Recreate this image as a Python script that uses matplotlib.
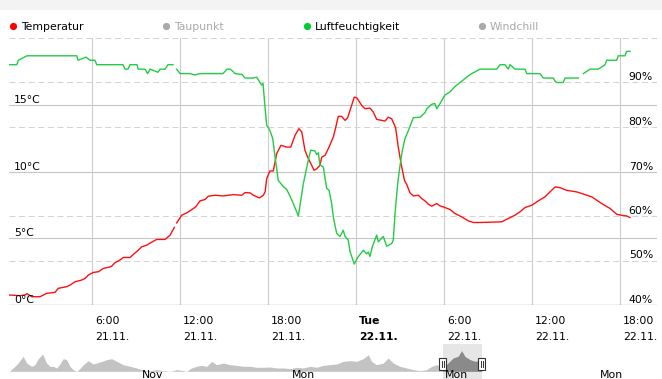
import numpy as np
import matplotlib
matplotlib.use("Agg")
import matplotlib.pyplot as plt
from matplotlib.patches import Rectangle
from matplotlib.transforms import blended_transform_factory as blend

nan = np.nan

# hours since 21.11. 00:00
temp_hours = [0.36, 1.09, 1.43, 1.57, 1.89, 2.45, 2.91, 3.48, 3.70, 4.27, 4.50, 4.84, 5.30, 5.52, 5.75,
              6.09, 6.43, 6.77, 7.23, 7.34, 7.57, 7.91, 8.13, 8.59, 8.82, 9.16, 9.39, 9.73, 10.07, 10.41,
              10.98, 11.32, 11.61, 11.69, 11.77, 12.12, 12.46, 12.80, 13.07, 13.36, 13.70, 13.93, 14.39,
              14.95, 15.63, 16.21, 16.43, 16.77, 17.00, 17.41, 17.68, 17.80, 17.91, 18.13, 18.36, 18.59,
              18.88, 19.27, 19.55, 19.84, 20.11, 20.30, 20.52, 20.75, 20.98, 21.14, 21.32, 21.54, 21.66,
              21.89, 22.16, 22.45, 22.61, 22.79, 23.02, 23.25, 23.43, 23.66, 23.88, 24.05, 24.39, 24.61,
              24.95, 25.18, 25.41, 25.75, 25.98, 26.20, 26.43, 26.70, 26.88, 27.07, 27.30, 27.46, 27.68,
              27.91, 28.25, 28.48, 28.70, 28.93, 29.16, 29.50, 29.73, 29.95, 30.41, 30.75, 31.21, 31.66,
              32.00, 32.45, 33.93, 34.38, 34.84, 35.18, 35.52, 35.98, 36.43, 36.88, 37.23, 37.57, 37.91,
              38.36, 39.05, 39.39, 40.07, 40.75, 41.32, 41.77, 42.11, 42.45, 42.68]
temp_values = [0.75, 0.70, 0.75, 0.85, 0.62, 0.62, 0.87, 0.95, 1.25, 1.37, 1.49, 1.74, 1.87, 1.99, 2.24,
               2.44, 2.49, 2.74, 2.85, 2.91, 3.17, 3.37, 3.56, 3.56, 3.79, 4.11, 4.36, 4.48, 4.71, 4.91,
               4.91, 5.23, 5.81, nan, 6.15, 6.73, 6.90, 7.15, 7.35, 7.80, 7.90, 8.15, 8.22,
               8.17, 8.27, 8.22, 8.42, 8.40, 8.22, 8.02, 8.22, 8.47, 9.47, 10.04, 10.04, 11.34,
               11.96, 11.83, 11.83, 12.71, 13.21, 12.96, 11.58, 10.96, 10.46, 10.09, 10.21, 10.46, 11.08,
               11.21, 11.83, 12.58, 13.28, 14.13, 14.13, 13.83, 14.03, 14.82, 15.57, 15.52, 14.95, 14.70,
               14.75, 14.45, 13.90, 13.83, 13.78, 14.07, 13.95, 13.28, 11.83, 10.59, 9.34, 9.02, 8.40,
               8.17, 8.22, 7.97, 7.80, 7.55, 7.40, 7.60, 7.42, 7.35, 7.15, 6.85, 6.60, 6.30,
               6.18, 6.18, 6.23, 6.48, 6.73, 6.98, 7.30, 7.47, 7.80, 8.10, 8.47, 8.84, 8.79,
               8.59, 8.47, 8.35, 8.10, 7.60, 7.23, 6.80, 6.72, 6.67, 6.55]

hum_hours = [0.36, 0.87, 0.98, 1.55, 4.96, 5.05, 5.59, 5.86, 6.20, 6.32, 7.23, 8.11, 8.25, 8.45, 8.59,
             9.07, 9.14, 9.61, 9.80, 9.95, 10.50, 10.64, 10.98, 11.18, 11.52, 11.64, 11.77, 12.00, 12.68,
             13.02, 13.36, 14.39, 14.93, 15.20, 15.41, 15.61, 15.75, 16.23, 16.43, 16.98, 17.23, 17.45,
             17.57, 17.66, 17.79, 17.91, 18.13, 18.32, 18.48, 18.70, 18.87, 19.04, 19.27, 19.62, 20.07,
             20.41, 20.75, 20.91, 21.20, 21.32, 21.43, 21.54, 21.77, 22.00, 22.16, 22.34, 22.45, 22.68,
             22.91, 23.13, 23.25, 23.47, 23.59, 23.88, 24.16, 24.50, 24.73, 24.84, 24.95, 25.11, 25.41,
             25.52, 25.86, 26.09, 26.43, 26.54, 26.66, 26.84, 26.99, 27.16, 27.34, 27.57, 27.91, 28.36,
             28.70, 28.82, 29.16, 29.37, 29.50, 29.73, 30.07, 30.41, 30.75, 31.09, 31.55, 31.89, 32.45,
             33.59, 33.82, 34.16, 34.38, 34.50, 34.84, 35.52, 35.64, 36.54, 36.77, 37.45, 37.57, 37.68,
             38.13, 38.25, 39.16, 39.33, 39.50, 39.95, 40.52, 40.98, 41.09, 41.77, 41.88, 42.34, 42.45,
             42.68]
hum_values = [94, 94, 95, 96, 96, 95, 95.7, 95, 95, 94, 94, 94, 93, 93, 94,
              94, 93, 93, 92, 93, 92.3, 93, 93, 94, 94, nan, 93, 92, 92,
              91.7, 92, 92, 92, 93, 93, 92.5, 92, 91.8, 91, 91, 91.2, 90,
              89.4, 89.8, 84.6, 80.4, 79.2, 77.4, 73.3, 68.0, 67.3, 66.6, 66.0, 63.6, 60.0,
              67.3, 72.6, 74.8, 74.6, 73.8, 74.2, 71.5, 71.0, 66.2, 65.8, 62.8, 59.8, 56.1,
              55.4, 56.8, 55.4, 54.6, 52.0, 49.2, 50.9, 52.3, 51.5, 51.9, 50.9, 53.1, 55.7,
              54.2, 55.4, 53.2, 53.8, 54.6, 60.6, 67.3, 71.1, 74.8, 77.4, 79.2, 82.1, 82.2,
              83.2, 84.1, 85.1, 85.3, 84.1, 85.3, 87.2, 87.9, 89.1, 90.0, 91.2, 92.0, 93.0,
              93.0, 94.0, 94.0, 93.0, 94.0, 93.0, 93.0, 92.0, 92.0, 91.0, 91.0, 90.3, 90.0,
              90.0, 91.0, 91.0, nan, 92.0, 93.0, 93.0, 94.0, 95.0, 95.0, 96.0, 96.0, 97.0,
              97.0]

temp_ticks = [0, 5, 10, 15]
hum_ticks = [40, 50, 60, 70, 80, 90]
hum_grid = [50, 60, 70, 80, 90, 100]
time_ticks = [6, 12, 18, 24, 30, 36, 42]
time_top = ["6:00", "12:00", "18:00", "Tue", "6:00", "12:00", "18:00"]
time_bot = ["21.11.", "21.11.", "21.11.", "22.11.", "22.11.", "22.11.", "22.11."]

legend_names = ["Temperatur", "Taupunkt", "Luftfeuchtigkeit", "Windchill"]
legend_colors = ["#ff0000", "#a9a9a9", "#00cc33", "#a9a9a9"]
legend_active = [True, False, True, False]

# navigator: days relative to 21.11. 00:00
nav_days = [-19.98, -19.75, -19.60, -19.37, -19.21, -18.98, -18.83, -18.67, -18.47, -18.29,
            -18.13, -17.98, -17.82, -17.67, -17.52, -17.36, -17.21, -17.06, -16.90, -16.75,
            -16.59, -16.36, -16.13, -15.82, -15.51, -15.28, -15.05, -14.75, -14.44, -14.13,
            -13.82, -13.51, -13.20, -12.90, -12.59, -12.44, -12.28, -12.05, -11.82, -11.59,
            -11.35, -11.12, -10.89, -10.66, -10.43, -10.12, -9.82, -9.51, -9.20, -8.89,
            -8.58, -8.28, -7.97, -7.66, -7.35, -7.04, -6.73, -6.43, -6.12, -5.81,
            -5.50, -5.19, -4.88, -4.58, -4.27, -3.96, -3.66, -3.42, -3.27, -3.04,
            -2.73, -2.50, -2.27, -1.96, -1.65, -1.34, -1.04, -0.73, -0.49, -0.26,
            0.04, 0.27, 0.50, 0.73, 0.89, 1.04, 1.28, 1.51, 1.74, 1.82]
nav_values = [0.4, 3.0, 5.0, 9.0, 5.0, 3.0, 4.0, 7.6, 10.4, 5.0,
              3.0, 3.0, 2.0, 4.4, 7.6, 7.0, 3.0, 1.0, 0.0, 1.6,
              4.0, 6.4, 4.4, 5.6, 7.0, 7.6, 6.0, 4.0, 3.0, 2.0,
              0.6, 0.4, 1.0, 0.4, 0.0, 0.4, 1.0, 0.6, 0.0, 2.0,
              3.0, 3.6, 3.0, 6.0, 4.0, 5.0, 4.0, 3.6, 3.0, 3.0,
              2.4, 2.4, 2.6, 2.0, 2.0, 1.6, 2.4, 2.0, 3.0, 2.4,
              3.6, 4.0, 4.4, 6.0, 6.4, 6.0, 7.6, 10.0, 6.0, 4.0,
              5.0, 8.0, 5.0, 3.0, 2.0, 1.0, 0.4, 1.0, 3.0, 4.0,
              2.0, 5.0, 8.0, 9.0, 12.4, 9.0, 7.0, 6.0, 6.4, 6.4]
nav_labels = ["Nov", "Mon", "Mon", "Mon"]
nav_label_days = [-13.39, -6.40, 0.66, 7.82]
sel_start, sel_end = 0.014, 1.82

W, H = 662, 379
plt.rcParams['font.family'] = ['DejaVu Sans']
fig = plt.figure(figsize=(W / 100, H / 100), dpi=100)

# background / legend overlay in pixel coords
ov = fig.add_axes([0, 0, 1, 1], zorder=-1)
ov.set_xlim(0, W); ov.set_ylim(H, 0); ov.axis('off')
ov.add_patch(Rectangle((0, 0), W, 10, color='#f3f3f3', lw=0))
leg_x = [12.7, 166.3, 307, 481.5]
for name, col, act, lx in zip(legend_names, legend_colors, legend_active, leg_x):
    ov.plot(lx, 26, 'o', ms=5.2, color=col, mec='none')
    ov.text(lx + 8, 26.5, name, va='center', ha='left', fontsize=7.8,
            color='black' if act else '#a9a9a9')

ax = fig.add_axes([9 / W, 74 / H, 648 / W, 267 / H])
ax.set_xlim(0.34, 44.52); ax.set_ylim(0, 20)
ax.set_xticks([]); ax.set_yticks([])
for s in ax.spines.values(): s.set_visible(False)
ax2 = ax.twinx()
ax2.set_ylim(40, 100); ax2.set_yticks([])
for s in ax2.spines.values(): s.set_visible(False)

# grid
for t in time_ticks:
    ax.axvline(t, color='#cccccc', lw=0.8, zorder=0)
for hg in hum_grid:
    ax.axhline((hg - 40) / 3, color='#d4d4d4', lw=0.75, ls=(0, (5.8, 3.4)), zorder=0)
for t in temp_ticks[1:]:
    ax.axhline(t, color='#c6c6c6', lw=0.8, zorder=0)
ax.axhline(0, color='#8c8c8c', lw=0.9, zorder=1)

ax.plot(temp_hours, temp_values, color='#ff1010', lw=1.0, zorder=3)
ax2.plot(hum_hours, hum_values, color='#22cc44', lw=1.0, zorder=3)

tl = blend(ax.transAxes, ax.transData)
for t in temp_ticks:
    ax.text(0.0077, t, f"{t}°C", transform=tl, ha='left', va='bottom', fontsize=7.8, zorder=4)
tr = blend(ax2.transAxes, ax2.transData)
for hv in hum_ticks:
    ax2.text(0.9938, hv, f"{hv}%", transform=tr, ha='right', va='bottom', fontsize=7.8)

tx = blend(ax.transData, ax.transAxes)
for t, a, b in zip(time_ticks, time_top, time_bot):
    w = 'bold' if a == 'Tue' else 'normal'
    ax.text(t + 0.2, -0.06, a, transform=tx, ha='left', va='center', fontsize=7.8, fontweight=w)
    ax.text(t + 0.2, -0.118, b, transform=tx, ha='left', va='center', fontsize=7.8, fontweight=w)

# navigator
nav = fig.add_axes([8 / W, 0, 649 / W, 35 / H])
nav.set_xlim(-20.07, 9.92); nav.set_ylim(-4.64, 16.45); nav.axis('off')
span = nav.axvspan(sel_start, sel_end, color='#e6e6e6', lw=0, zorder=0)
nav.fill_between(nav_days, 0, nav_values, color='#c3c3c3', lw=0, zorder=1)
dark = nav.fill_between(nav_days, 0, nav_values, color='#8a8a8a', lw=0, zorder=2)
dark.set_clip_path(span)
for d in (sel_start, sel_end):
    nav.add_patch(Rectangle((d - 0.16, 0.6), 0.32, 7.4, facecolor='white',
                            edgecolor='#333333', lw=0.8, zorder=5))
    for off in (-0.05, 0.05):
        nav.plot([d + off, d + off], [2.6, 6.0], color='#333333', lw=0.7, zorder=6)
for lab, d in zip(nav_labels, nav_label_days):
    nav.text(d, -2.2, lab, ha='center', va='center', fontsize=7.8, zorder=7)

fig.savefig('out.png', dpi=100)
